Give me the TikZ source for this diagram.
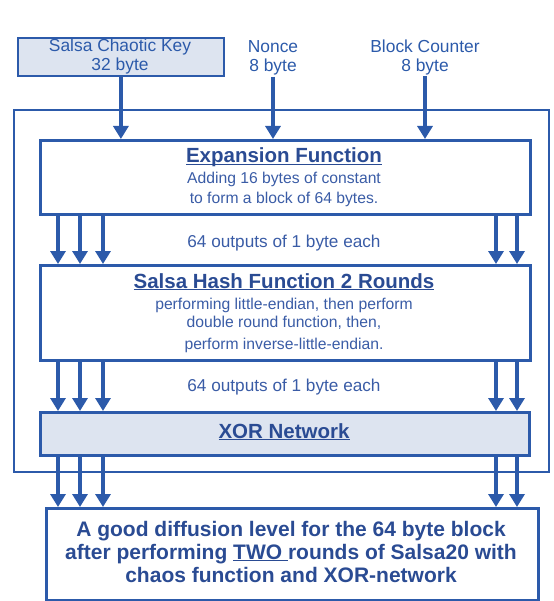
\documentclass[tikz,border=0pt]{standalone}
\usepackage{fontspec}
\setmainfont{Liberation Sans}
\usetikzlibrary{arrows.meta}
\definecolor{lineblue}{HTML}{2C5AAA}
\definecolor{titleblue}{HTML}{2A4B93}
\definecolor{textblue}{HTML}{3A5CA6}
\definecolor{boxfill}{HTML}{DDE4F0}
\newsavebox\ulbox
\newcommand\myul[1]{\sbox\ulbox{#1}\rlap{\rule[-2.4bp]{\wd\ulbox}{1.4bp}}\usebox\ulbox}
\begin{document}
\begin{tikzpicture}[x=1bp,y=-1bp,
  outerbox/.style={draw=lineblue, line width=2.2bp, inner sep=0, anchor=north west},
  fbox/.style={draw=lineblue, line width=3.2bp, inner sep=0, anchor=north west},
  keybox/.style={draw=lineblue, line width=1.8bp, fill=boxfill, inner sep=0, anchor=north west},
  arr/.style={draw=lineblue, line width=3.6bp, -{Triangle[width=15bp,length=13bp]}},
  lbl/.style={anchor=base, inner sep=0, text=lineblue, font=\fontsize{17.4bp}{20bp}\selectfont},
  body/.style={anchor=base, inner sep=0, text=textblue, font=\fontsize{15.7bp}{18bp}\selectfont},
  outs/.style={anchor=base, inner sep=0, text=textblue, font=\fontsize{17.2bp}{20bp}\selectfont},
  ttl/.style={anchor=base, inner sep=0, text=titleblue, font=\fontsize{20.5bp}{23bp}\selectfont\bfseries},
  fin/.style={anchor=base, inner sep=0, text=titleblue, font=\fontsize{21bp}{23bp}\selectfont\bfseries}
]
\useasboundingbox (0,0) rectangle (554,601);

% outer frame
\node[outerbox, minimum width=535bp, minimum height=362bp] (outer) at (13,109) {};

% inputs
\node[keybox, minimum width=206bp, minimum height=37.5bp] (key) at (17,37.5) {};
\node[lbl] (keyA) at (120,52) {Salsa Chaotic Key};
\node[lbl] (keyB) at (120,70.5) {32 byte};
\node[lbl] (nonceA) at (273,53) {Nonce};
\node[lbl] (nonceB) at (273,72) {8 byte};
\node[lbl] (bcA) at (425,53) {Block Counter};
\node[lbl] (bcB) at (425,72) {8 byte};

% function boxes
\node[fbox, minimum width=490bp, minimum height=74bp] (exp) at (39,139) {};
\node[fbox, minimum width=490bp, minimum height=95bp] (salsa) at (39,264) {};
\node[fbox, fill=boxfill, minimum width=489bp, minimum height=43bp] (xor) at (39,411) {};
\node[fbox, minimum width=492bp, minimum height=92bp] (final) at (45,507) {};

% texts
\node[ttl] (expT) at (284,163) {\myul{Expansion Function}};
\node[body] (expA) at (284,183) {Adding 16 bytes of constant};
\node[body] (expB) at (284,203) {to form a block of 64 bytes.};
\node[outs] (outA) at (284,247) {64 outputs of 1 byte each};
\node[ttl] (salT) at (284,288) {\myul{Salsa Hash Function 2 Rounds}};
\node[body] (salA) at (284,309) {performing little-endian, then perform};
\node[body] (salB) at (284,327) {double round function, then,};
\node[body] (salC) at (284,349) {perform inverse-little-endian.};
\node[outs] (outB) at (284,391) {64 outputs of 1 byte each};
\node[ttl] (xorT) at (284,438) {\myul{XOR Network}};
\node[fin] (finA) at (291,536) {A good diffusion level for the 64 byte block};
\node[fin] (finB) at (291,559) {after performing \myul{TWO\ }rounds of Salsa20 with};
\node[fin] (finC) at (291,582) {chaos function and XOR-network};

% input arrows
\draw[arr] (key.south) -- (key.south |- exp.north);
\draw[arr] (nonceB.south) ++(0,1) -- (nonceB.south |- exp.north);
\draw[arr] (bcB.south) -- (bcB.south |- exp.north);

% column arrows
\foreach \x [count=\i] in {58,80,103,496,517} {
  \coordinate (col\i) at (\x,0);
  \draw[arr] (exp.south -| col\i) -- (salsa.north -| col\i);
  \draw[arr] (salsa.south -| col\i) -- (xor.north -| col\i);
  \draw[arr] (xor.south -| col\i) -- (final.north -| col\i);
}
\end{tikzpicture}
\end{document}
